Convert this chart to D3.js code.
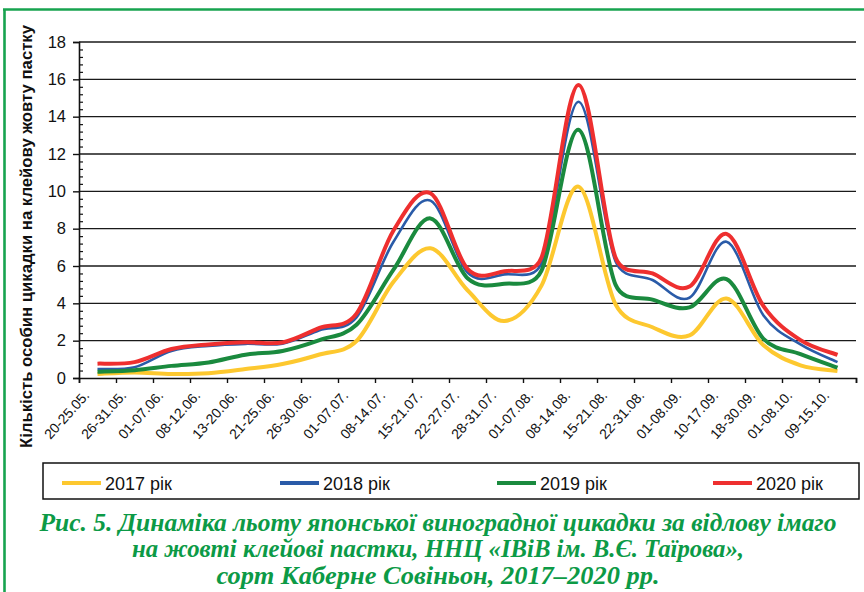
<!DOCTYPE html>
<html><head><meta charset="utf-8">
<script src="https://cdn.jsdelivr.net/npm/d3@7"></script>
<style>
html,body{margin:0;padding:0;background:#fff;}
svg{display:block;}
</style>
</head><body>
<svg id="chart" width="864" height="592"></svg>
<script>
const categories = ["20-25.05.","26-31.05.","01-07.06.","08-12.06.","13-20.06.","21-25.06.","26-30.06.","01-07.07.","08-14.07.","15-21.07.","22-27.07.","28-31.07.","01-07.08.","08-14.08.","15-21.08.","22-31.08.","01-08.09.","10-17.09.","18-30.09.","01-08.10.","09-15.10."];
const yTicks = [0,2,4,6,8,10,12,14,16,18];
const seriesNames = ["2017 рік","2018 рік","2019 рік","2020 рік"];
const s2017 = [0.22,0.30,0.22,0.26,0.48,0.75,1.26,1.98,5.15,6.95,4.70,3.05,4.95,10.25,3.95,2.72,2.28,4.26,1.75,0.68,0.38];
const s2018 = [0.48,0.58,1.45,1.72,1.83,1.84,2.56,3.25,7.30,9.50,5.65,5.55,6.15,14.80,6.25,5.25,4.30,7.30,3.35,1.80,0.85];
const s2019 = [0.34,0.42,0.65,0.83,1.25,1.45,2.03,2.85,5.80,8.55,5.35,5.05,5.75,13.30,5.00,4.20,3.78,5.30,2.10,1.28,0.55];
const s2020 = [0.77,0.85,1.55,1.80,1.92,1.90,2.68,3.45,7.90,9.90,5.85,5.72,6.45,15.70,6.45,5.60,4.90,7.72,3.85,2.03,1.24];
const yTitle = "Кількість особин цикадки на клейову жовту пастку";
const captionLines = ["Рис. 5. Динаміка льоту японської виноградної цикадки за відлову імаго",
  "на жовті клейові пастки, ННЦ «ІВіВ ім. В.Є. Таїрова»,",
  "сорт Каберне Совіньон, 2017–2020 рр."];

const colors = ["#fdc82f","#2a5ba8","#1a8a3e","#ee2f2f"];
const widths = [4,2.6,4,4];
const allSeries = [s2017,s2018,s2019,s2020];

// Excel-style smoothed line as a d3 curve (Bezier, tension 1/6, control arm capped at half segment)
function ExcelCurve(context){ this._context = context; }
ExcelCurve.prototype = {
  areaStart(){}, areaEnd(){},
  lineStart(){ this._pts = []; },
  point(x,y){ this._pts.push([+x,+y]); },
  lineEnd(){
    const p = this._pts, c = this._context, n = p.length;
    if(!n) return;
    c.moveTo(p[0][0],p[0][1]);
    const dist=(a,b)=>Math.hypot(b[0]-a[0],b[1]-a[1]);
    for(let i=0;i<n-1;i++){
      const p0=p[i-1]||p[i], p1=p[i], p2=p[i+1], p3=p[i+2]||p[i+1];
      const d02=dist(p0,p2), d12=dist(p1,p2), d13=dist(p1,p3);
      let f1=1/6, f2=1/6;
      if(d02/6 >= d12/2 && d02>0) f1 = d12/(2*d02);
      if(d13/6 >= d12/2 && d13>0) f2 = d12/(2*d13);
      c.bezierCurveTo(p1[0]+f1*(p2[0]-p0[0]), p1[1]+f1*(p2[1]-p0[1]),
                      p2[0]-f2*(p3[0]-p1[0]), p2[1]-f2*(p3[1]-p1[1]),
                      p2[0], p2[1]);
    }
  }
};
const curveExcel = ctx => new ExcelCurve(ctx);

const svg = d3.select("#chart");
const L = 79, R = 856, T = 42, B = 378;
const font = "'Liberation Sans', Arial, sans-serif";

// frame (green page border)
svg.append("line").attr("x1",4.5).attr("x2",4.5).attr("y1",9).attr("y2",592).attr("stroke","#17a34f").attr("stroke-width",2.6);
svg.append("line").attr("x1",3).attr("x2",864).attr("y1",9.5).attr("y2",9.5).attr("stroke","#17a34f").attr("stroke-width",2.6);

const x = d3.scaleBand().domain(categories).range([L,R]);
const xEdge = d3.scaleLinear().domain([0,categories.length]).range([L,R]);
const y = d3.scaleLinear().domain([0,18]).range([B,T]);

// gridlines
svg.append("g").selectAll("line").data(yTicks.filter(d=>d>0)).join("line")
  .attr("x1",L).attr("x2",R).attr("y1",d=>y(d)).attr("y2",d=>y(d))
  .attr("stroke","#1a1a1a").attr("stroke-width",1.4);

// minor y ticks (inside)
const minor = d3.range(1,46).filter(k=>k%5!==0).map(k=>k*0.4);
svg.append("g").attr("transform",`translate(${L},0)`)
  .call(d3.axisRight(y).tickValues(minor).tickSize(4).tickFormat(""))
  .call(g=>g.select(".domain").remove())
  .call(g=>g.selectAll("line").attr("stroke","#111").attr("stroke-width",1.2));

// major y axis
const yAx = svg.append("g").attr("transform",`translate(${L},0)`)
  .call(d3.axisLeft(y).tickValues(yTicks).tickSize(6).tickPadding(7).tickFormat(d3.format("d")));
yAx.select(".domain").attr("stroke","#111").attr("stroke-width",1.6);
yAx.selectAll("line").attr("stroke","#111").attr("stroke-width",1.4);
yAx.selectAll("text").attr("font-family",font).attr("font-size","16.5px").attr("fill","#111");

// x axis with ticks at band edges
const xAx = svg.append("g").attr("transform",`translate(0,${B})`)
  .call(d3.axisBottom(xEdge).tickValues(d3.range(categories.length+1)).tickSize(5).tickFormat(""));
xAx.select(".domain").attr("stroke","#111").attr("stroke-width",1.6);
xAx.selectAll("line").attr("stroke","#111").attr("stroke-width",1.4);

// x labels rotated
svg.append("g").selectAll("text").data(categories).join("text")
  .attr("transform",d=>`translate(${x(d)+x.bandwidth()/2-7.5},396) rotate(-48)`)
  .attr("text-anchor","end")
  .attr("font-family",font).attr("font-size","14px").attr("fill","#111")
  .text(d=>d);

// y title
svg.append("text").attr("transform","translate(32,236.5) rotate(-90)")
  .attr("text-anchor","middle").attr("font-family",font).attr("font-weight","bold")
  .attr("font-size","16px").attr("fill","#111")
  .attr("textLength",423).attr("lengthAdjust","spacingAndGlyphs").text(yTitle);

// lines
const line = d3.line().x((d,i)=>x(categories[i])+x.bandwidth()/2).y(d=>y(d)).curve(curveExcel);
svg.append("g").selectAll("path").data(allSeries).join("path")
  .attr("d",d=>line(d)).attr("fill","none")
  .attr("stroke",(d,i)=>colors[i]).attr("stroke-width",(d,i)=>widths[i])
  .attr("stroke-linejoin","round").attr("stroke-linecap","butt");

// legend
svg.append("rect").attr("x",43).attr("y",463).attr("width",816).attr("height",36)
  .attr("fill","#fff").attr("stroke","#111").attr("stroke-width",1.5);
const legX = [62,280,497,713];
const lg = svg.append("g").selectAll("g").data(seriesNames).join("g")
  .attr("transform",(d,i)=>`translate(${legX[i]},483)`);
lg.append("line").attr("x1",0).attr("x2",39).attr("y1",0).attr("y2",0)
  .attr("stroke",(d,i)=>colors[i]).attr("stroke-width",4);
lg.append("text").attr("x",43).attr("y",6.5).attr("font-family",font).attr("font-size","18px")
  .attr("fill","#111").text(d=>d);

// caption
const capY = [531,557,584];
const capW = [797,612,443];
svg.append("g").selectAll("text").data(captionLines).join("text")
  .attr("x",438).attr("y",(d,i)=>capY[i]).attr("text-anchor","middle")
  .attr("font-family","'Liberation Serif','Times New Roman',serif")
  .attr("font-weight","bold").attr("font-style","italic").attr("font-size","25px")
  .attr("fill","#0c9a46")
  .attr("textLength",(d,i)=>capW[i]).attr("lengthAdjust","spacingAndGlyphs")
  .text(d=>d);
</script>
</body></html>
